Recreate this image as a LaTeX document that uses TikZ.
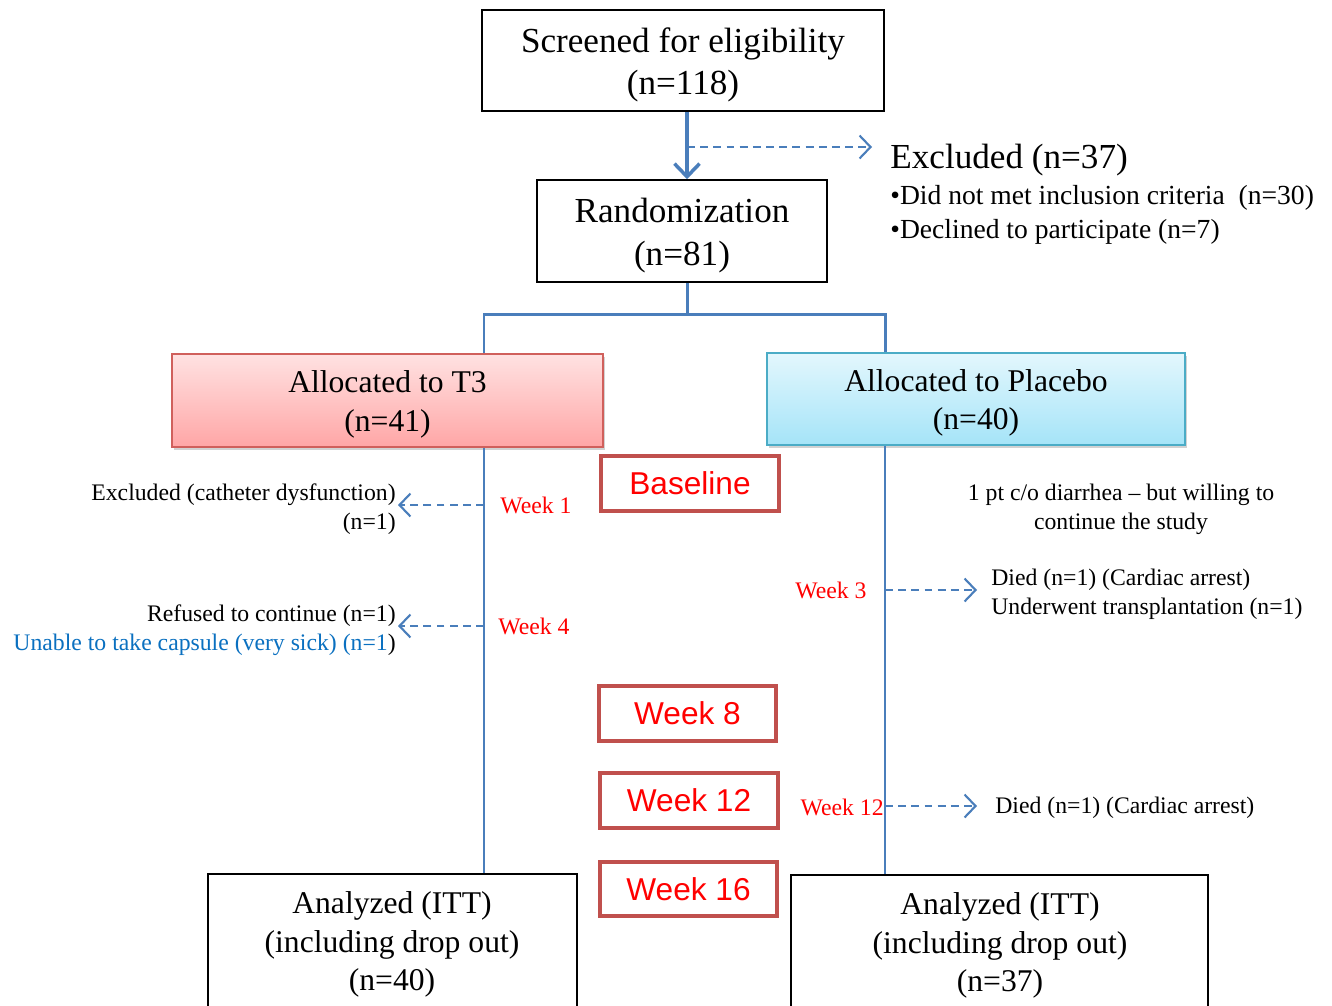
\documentclass[tikz,border=0pt]{standalone}
\usepackage{fontspec}
\setmainfont{Liberation Serif}
\newfontfamily\arialf{Liberation Sans}
\usetikzlibrary{arrows.meta,shadows}
\definecolor{lblue}{HTML}{4A7EBB}
\definecolor{wkred}{HTML}{C0504D}
\definecolor{txtblue}{HTML}{0A70C0}
\definecolor{tthree}{HTML}{D0605C}
\definecolor{plbd}{HTML}{4BACC6}
\definecolor{pltop}{HTML}{E3F7FD}
\definecolor{plbot}{HTML}{A5E4F8}
\definecolor{tttop}{HTML}{FFE2E2}
\definecolor{ttbot}{HTML}{FFA6A6}
\newcommand\mytopstrut{\rule{0pt}{0.95em}}
\begin{document}
\begin{tikzpicture}[x=0.02cm,y=-0.02cm,
  plainbox/.style={draw=black,line width=0.9pt,inner sep=0pt,align=center},
  bigtxt/.style={font=\fontsize{20}{24}\selectfont},
  medtxt/.style={font=\fontsize{18}{22}\selectfont},
  smalltxt/.style={font=\fontsize{13.5}{16.4}\selectfont,inner sep=0pt},
  weekbox/.style={draw=wkred,line width=1.8pt,inner sep=0pt,text=red,font=\arialf\fontsize{18}{22}\selectfont,minimum height=1.1cm},
  weeklbl/.style={text=red,font=\fontsize{13.5}{16}\selectfont,inner sep=0pt},
  bigarrow/.style={draw=lblue,line width=2.3pt,-{Straight Barb[length=2.6mm,width=5mm,line width=2pt]}},
  dasharrow/.style={draw=lblue,line width=1.1pt,dash pattern=on 4.5pt off 3pt,-{Straight Barb[length=2.2mm,width=4.6mm,line width=1.2pt]}},
  treeline/.style={draw=lblue,line width=1.7pt},
  thinline/.style={draw=lblue,line width=0.8pt},
  allocbox/.style={inner sep=0pt,align=center,font=\fontsize{18}{22}\selectfont,drop shadow={shadow xshift=1.2pt,shadow yshift=-1.5pt,opacity=0.35}}
]
\clip (0,0) rectangle (1332,1005);
\fill[white] (0,0) rectangle (1332,1005);

% top boxes
\node[plainbox,bigtxt,minimum width=8.04cm,minimum height=2.02cm] (scr) at (683,60.5) {\mytopstrut Screened for eligibility\\(n=118)};
\node[plainbox,bigtxt,minimum width=5.8cm,minimum height=2.04cm] (rand) at (682,231) {\mytopstrut Randomization\\(n=81)};

\coordinate (cx) at (687,0);
\coordinate (dstart) at (687,147);
\coordinate (dend) at (872,147);
\draw[bigarrow] (scr.south -| cx) -- (rand.north -| cx);
\draw[dasharrow] (dstart) -- (dend);

\node[bigtxt,anchor=west,inner sep=0pt] (exc) at (890,160) {Excluded (n=37)};
\node[font=\fontsize{15.7}{19.2}\selectfont,anchor=north west,align=left,inner sep=0pt] (excl) at (890,185) {\textbullet Did not met inclusion criteria \ (n=30)\\\textbullet Declined to participate (n=7)};

% allocation
\node[allocbox,draw=tthree,line width=0.9pt,top color=tttop,bottom color=ttbot,minimum width=8.62cm,minimum height=1.86cm] (t3) at (387.5,400.5) {\mytopstrut Allocated to T3\\(n=41)};
\node[allocbox,draw=plbd,line width=0.9pt,top color=pltop,bottom color=plbot,minimum width=8.36cm,minimum height=1.84cm] (pl) at (976,399) {\mytopstrut Allocated to Placebo\\(n=40)};

\coordinate (lx) at (484,0);
\coordinate (rx) at (885,0);
\coordinate (jn) at (687,314);
\coordinate (jl) at (484,314);
\coordinate (jr) at (885,314);
\draw[treeline] (rand.south -| cx) -- (jn);
\draw[treeline] (t3.north -| lx) -- (jl) -- (jr) -- (pl.north -| rx);

% analyzed boxes
\node[plainbox,minimum width=7.38cm,minimum height=2.92cm] (al) at (392.5,947) {};
\node[plainbox,minimum width=8.34cm,minimum height=2.92cm] (ar) at (999.5,948) {};
\node[medtxt,align=center,inner sep=0pt] (alt) at (392,944.5) {Analyzed (ITT)\\(including drop out)\\(n=40)};
\node[medtxt,align=center,inner sep=0pt] (art) at (1000,945.5) {Analyzed (ITT)\\(including drop out)\\(n=37)};

\draw[thinline] (t3.south -| lx) -- (al.north -| lx);
\draw[thinline] (pl.south -| rx) -- (ar.north -| rx);

% week boxes
\node[weekbox,minimum width=3.56cm] (base) at (690,483.5) {Baseline};
\node[weekbox,minimum width=3.54cm] (wk8) at (687.5,713.5) {Week 8};
\node[weekbox,minimum width=3.56cm] (wk12) at (689,800.5) {Week 12};
\node[weekbox,minimum width=3.54cm,minimum height=1.08cm] (wk16) at (688.5,889) {Week 16};

% left events
\node[weeklbl] (w1) at (536,505) {Week 1};
\node[weeklbl] (w4) at (534,626) {Week 4};
\coordinate (w1s) at (484,505);
\coordinate (w1e) at (398,505);
\coordinate (w4s) at (484,626);
\coordinate (w4e) at (398,626);
\draw[dasharrow] (w1s) -- (w1e);
\draw[dasharrow] (w4s) -- (w4e);
\node[smalltxt,anchor=east,align=right] (ex1) at (396,509.5) {Excluded (catheter dysfunction)\\(n=1)};
\node[smalltxt,anchor=east,align=right] (ex4) at (396,630.5) {Refused to continue (n=1)\\\textcolor{txtblue}{Unable to take capsule (very sick) (n=1}\kern0pt)};

% right events
\node[smalltxt,align=center] (diar) at (1121,509.5) {1 pt c/o diarrhea -- but willing to\\continue the study};
\node[weeklbl] (w3) at (831,590) {Week 3};
\coordinate (w3s) at (885,590);
\coordinate (w3e) at (977,590);
\draw[dasharrow] (w3s) -- (w3e);
\node[smalltxt,anchor=west,align=left] (died3) at (991,594.5) {Died (n=1) (Cardiac arrest)\\Underwent transplantation (n=1)};
\node[weeklbl,anchor=east] (w12) at (884,807) {Week 12};
\coordinate (w12s) at (885,806);
\coordinate (w12e) at (977,806);
\draw[dasharrow] (w12s) -- (w12e);
\node[smalltxt,anchor=west] (died12) at (995,808) {Died (n=1) (Cardiac arrest)};
\end{tikzpicture}
\end{document}
